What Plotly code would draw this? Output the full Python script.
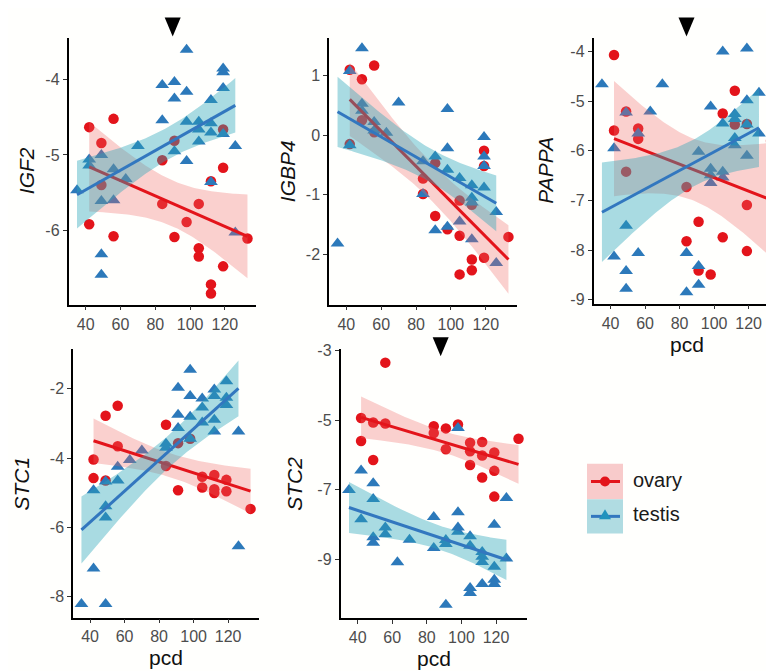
import numpy as np
import plotly.graph_objects as go

W, H = 774, 671

# ---------------- data (pcd = post-conceptional days, values = log expression) -------------
igf2_ovary_pcd = [42, 42, 49, 49, 56, 56, 84, 84, 91, 91, 98, 105, 105, 105, 112, 112, 112, 119, 119, 119, 133]
igf2_ovary_val = [-4.63, -5.92, -4.84, -5.40, -4.52, -6.08, -5.07, -5.65, -4.81, -6.09, -5.89, -5.65, -6.24, -6.35,
                  -5.35, -6.72, -6.84, -4.66, -5.17, -6.48, -6.11]
igf2_testis_pcd = [35, 42, 42, 49, 49, 49, 49, 56, 56, 63, 70, 84, 84, 91, 91, 91, 98, 98, 98, 98, 105, 105, 105,
                   112, 112, 112, 112, 119, 119, 119, 119, 126, 126]
igf2_testis_val = [-5.47, -5.06, -5.14, -5.00, -5.61, -6.32, -6.59, -5.19, -5.60, -5.32, -4.88, -4.07, -4.54, -4.03,
                   -4.25, -4.95, -3.60, -4.16, -4.56, -5.08, -4.56, -4.66, -4.82, -4.27, -4.58, -4.70, -5.36, -3.85,
                   -3.90, -4.11, -4.72, -4.88, -6.03]

igbp4_ovary_pcd = [42, 42, 49, 49, 56, 56, 84, 84, 91, 91, 98, 105, 105, 105, 112, 112, 112, 119, 119, 119, 133]
igbp4_ovary_val = [1.10, -0.15, 0.94, 0.25, 1.17, 0.05, -0.73, -0.99, -0.47, -1.36, -1.58, -1.10, -1.69, -2.34,
                   -1.17, -2.09, -2.27, -0.26, -0.52, -2.06, -1.71]
igbp4_testis_pcd = [35, 42, 42, 49, 49, 49, 56, 56, 63, 70, 84, 84, 91, 91, 98, 98, 98, 98, 105, 105,
                    112, 112, 112, 112, 119, 119, 119, 119, 126, 126]
igbp4_testis_val = [-1.82, 1.08, -0.17, 1.46, 0.53, 0.41, 0.22, 0.08, 0.04, 0.55, -0.44, -0.99, -0.36, -1.60,
                    0.44, -0.22, -0.58, -1.54, -0.72, -1.45, -0.84, -1.05, -1.13, -1.75, -0.03, -0.36, -0.52,
                    -0.88, -1.29, -2.15]

pappa_ovary_pcd = [42, 42, 49, 49, 56, 56, 84, 84, 91, 91, 98, 105, 105, 112, 112, 119, 119, 119, 133]
pappa_ovary_val = [-4.07, -5.59, -5.21, -6.42, -5.55, -5.76, -6.73, -7.82, -7.43, -8.41, -8.49, -5.25, -7.74,
                   -4.79, -5.47, -5.46, -7.09, -8.02, -5.80]
pappa_testis_pcd = [35, 42, 42, 49, 49, 49, 49, 56, 56, 63, 70, 84, 84, 91, 91, 91, 98, 98, 98, 98, 105, 105, 105,
                    105, 112, 112, 112, 112, 119, 119, 119, 119, 126, 126]
pappa_testis_val = [-4.66, -5.95, -8.13, -5.23, -7.51, -8.42, -8.78, -5.65, -8.06, -5.21, -4.66, -8.06, -8.85,
                    -6.02, -8.32, -8.70, -5.11, -6.36, -6.49, -6.65, -4.00, -5.45, -6.42, -6.54, -5.26, -5.36,
                    -5.74, -5.89, -3.94, -4.98, -5.47, -6.10, -4.83, -5.65]

stc1_ovary_pcd = [42, 42, 49, 49, 56, 56, 84, 84, 91, 91, 98, 105, 105, 112, 112, 112, 119, 119, 133]
stc1_ovary_val = [-4.04, -4.58, -2.78, -4.65, -2.49, -3.66, -3.04, -4.23, -3.57, -4.93, -3.44, -4.54, -4.85,
                  -4.49, -4.90, -5.01, -4.63, -4.96, -5.47]
stc1_testis_pcd = [35, 42, 42, 49, 49, 49, 49, 56, 56, 63, 70, 84, 84, 91, 91, 91, 98, 98, 98, 98, 105, 105, 105,
                   112, 112, 112, 112, 119, 119, 119, 126, 126]
stc1_testis_val = [-8.22, -4.93, -7.19, -4.68, -5.39, -5.72, -8.22, -4.25, -4.65, -4.06, -3.78, -3.59, -3.70,
                   -1.97, -2.75, -3.13, -1.45, -2.21, -2.81, -3.44, -2.28, -2.54, -2.97, -2.02, -2.21, -2.89,
                   -3.23, -1.78, -2.26, -2.47, -3.23, -6.55]

stc2_ovary_pcd = [42, 42, 49, 49, 56, 56, 84, 84, 91, 91, 98, 105, 105, 105, 112, 112, 112, 119, 119, 119, 133]
stc2_ovary_val = [-4.94, -5.60, -5.07, -6.15, -3.35, -5.10, -5.18, -5.37, -5.24, -5.84, -5.13, -5.65, -5.90,
                  -6.29, -5.63, -6.02, -6.65, -5.93, -6.46, -7.20, -5.54]
stc2_testis_pcd = [35, 42, 42, 49, 49, 49, 49, 56, 56, 63, 70, 84, 84, 91, 91, 91, 98, 98, 98, 98, 105, 105, 105,
                   105, 112, 112, 112, 112, 119, 119, 119, 119, 126, 126]
stc2_testis_val = [-7.01, -6.45, -7.85, -6.82, -7.27, -8.37, -8.53, -8.09, -8.28, -9.09, -8.44, -7.79, -8.68,
                   -8.45, -8.56, -10.31, -5.23, -7.65, -8.09, -8.21, -8.34, -8.61, -9.83, -9.97, -8.79, -8.93,
                   -9.08, -9.71, -8.01, -9.22, -9.59, -9.71, -8.98, -7.24]

genes = ["IGF2", "IGBP4", "PAPPA", "STC1", "STC2"]
ovary_pcd = [igf2_ovary_pcd, igbp4_ovary_pcd, pappa_ovary_pcd, stc1_ovary_pcd, stc2_ovary_pcd]
ovary_val = [igf2_ovary_val, igbp4_ovary_val, pappa_ovary_val, stc1_ovary_val, stc2_ovary_val]
testis_pcd = [igf2_testis_pcd, igbp4_testis_pcd, pappa_testis_pcd, stc1_testis_pcd, stc2_testis_pcd]
testis_val = [igf2_testis_val, igbp4_testis_val, pappa_testis_val, stc1_testis_val, stc2_testis_val]

x_ticks = [40, 60, 80, 100, 120]
y_ticks = [[-6, -5, -4], [-2, -1, 0, 1], [-9, -8, -7, -6, -5, -4], [-8, -6, -4, -2], [-9, -7, -5, -3]]
y_ranges = [[-6.99, -3.44], [-2.85, 1.64], [-9.08, -3.72], [-8.61, -0.86], [-10.69, -2.97]]
x_range = [30.1, 137.9]
arrow_pcd = {0: 90, 2: 84, 4: 88}   # panel index -> marked pcd
show_xtitle = [False, False, True, True, True]

# ---------------- styling / layout (pixel boxes of panels) ----------------
panel_px = [  # x0, x1, ytop, ybottom
    (60.5, 248, 23, 295),
    (321, 509, 23, 295),
    (585.5, 771.5, 23, 294),
    (65, 251, 340.5, 613.5),
    (332.5, 519, 340.5, 614),
]
ytitle_x = [18, 279, 538, 13, 287]

RED = "#E3141B"
BLUE = "#2C79BA"
RED_LINE = "#E3141B"
BLUE_LINE = "#3277BF"
PINK_FILL = "rgba(240,100,100,0.30)"
TEAL_FILL = "rgba(40,165,185,0.40)"
PINK_SOLID = "#F8CBCB"
TEAL_SOLID = "#B0DCE2"
FONT = "Liberation Sans"


def fx(px):
    return px / W


def fy(py):
    return 1 - py / H


def t_quant(df):
    z = 1.959964
    g1 = (z ** 3 + z) / 4
    g2 = (5 * z ** 5 + 16 * z ** 3 + 3 * z) / 96
    g3 = (3 * z ** 7 + 19 * z ** 5 + 17 * z ** 3 - 15 * z) / 384
    return z + g1 / df + g2 / df ** 2 + g3 / df ** 3


def lm_fit(x, y):
    x = np.asarray(x, float)
    y = np.asarray(y, float)
    n = len(x)
    b, a = np.polyfit(x, y, 1)
    resid = y - (a + b * x)
    s = np.sqrt(np.sum(resid ** 2) / (n - 2))
    xb = x.mean()
    sxx = np.sum((x - xb) ** 2)
    xs = np.linspace(x.min(), x.max(), 80)
    yh = a + b * xs
    se = s * np.sqrt(1 / n + (xs - xb) ** 2 / sxx)
    t = t_quant(n - 2)
    return xs, yh, yh - t * se, yh + t * se


fig = go.Figure()
layout = dict(
    width=W, height=H, margin=dict(l=0, r=0, t=0, b=0),
    paper_bgcolor="#FFFFFD", plot_bgcolor="rgba(0,0,0,0)",
    showlegend=False, font=dict(family=FONT),
)
annotations = []
shapes = []

for i, g in enumerate(genes):
    sfx = "" if i == 0 else str(i + 1)
    xa, ya = "x" + sfx, "y" + sfx
    x0, x1, yt, yb = panel_px[i]
    layout["xaxis" + sfx] = dict(
        domain=[fx(x0), fx(x1)], range=x_range, anchor=ya, tickvals=x_ticks,
        ticktext=[str(v) for v in x_ticks],
        showline=True, linecolor="black", linewidth=1.5, ticks="outside", ticklen=4,
        tickwidth=1.3, tickcolor="#333333", showgrid=False, zeroline=False,
        tickfont=dict(size=16, color="#4D4D4D", family=FONT),
    )
    layout["yaxis" + sfx] = dict(
        domain=[fy(yb), fy(yt)], range=y_ranges[i], anchor=xa, tickvals=y_ticks[i],
        ticktext=[str(v) for v in y_ticks[i]],
        showline=True, linecolor="black", linewidth=1.5, ticks="outside", ticklen=4,
        tickwidth=1.3, tickcolor="#333333", showgrid=False, zeroline=False,
        tickfont=dict(size=16, color="#4D4D4D", family=FONT),
    )
    # points (drawn first, ribbons drawn on top as in ggplot)
    fig.add_trace(go.Scatter(x=ovary_pcd[i], y=ovary_val[i], mode="markers", xaxis=xa, yaxis=ya,
                             marker=dict(symbol="circle", size=10.5, color=RED, line=dict(width=0)),
                             cliponaxis=False, hoverinfo="skip"))
    fig.add_trace(go.Scatter(x=testis_pcd[i], y=testis_val[i], mode="markers", xaxis=xa, yaxis=ya,
                             marker=dict(symbol="triangle-up", size=12, color=BLUE, line=dict(width=0)),
                             cliponaxis=False, hoverinfo="skip"))
    for px_, pv_, fill, lc in [(ovary_pcd[i], ovary_val[i], PINK_FILL, RED_LINE),
                               (testis_pcd[i], testis_val[i], TEAL_FILL, BLUE_LINE)]:
        xs, yh, lo, hi = lm_fit(px_, pv_)
        fig.add_trace(go.Scatter(x=np.concatenate([xs, xs[::-1]]), y=np.concatenate([hi, lo[::-1]]),
                                 mode="lines", fill="toself", fillcolor=fill, line=dict(width=0),
                                 xaxis=xa, yaxis=ya, hoverinfo="skip"))
        fig.add_trace(go.Scatter(x=xs, y=yh, mode="lines", line=dict(color=lc, width=3),
                                 xaxis=xa, yaxis=ya, hoverinfo="skip"))
    # y title
    annotations.append(dict(text="<i>%s</i>" % g, x=fx(ytitle_x[i]), y=fy((yt + yb) / 2), xref="paper",
                            yref="paper", showarrow=False, textangle=-90, xanchor="center", yanchor="middle",
                            font=dict(size=21, color="#111111", family=FONT)))
    if show_xtitle[i]:
        annotations.append(dict(text="pcd", x=fx((x0 + x1) / 2), y=fy(yb + 41), xref="paper", yref="paper",
                                showarrow=False, xanchor="center", yanchor="middle",
                                font=dict(size=21, color="#111111", family=FONT)))
    if i in arrow_pcd:
        shapes.append(dict(type="path", xref=xa, yref="paper", xsizemode="pixel", ysizemode="pixel",
                           xanchor=arrow_pcd[i], yanchor=fy(yt - 1 if i != 4 else yt + 7),
                           path="M-8,19 L8,19 L0,0 Z", fillcolor="black", line=dict(width=0)))

# legend (manual, ggplot-style keys)
leg_x0, leg_x1 = 579, 615
leg_rows = [("ovary", 457, 493, PINK_SOLID, RED_LINE, RED, "circle"),
            ("testis", 493, 528, TEAL_SOLID, BLUE_LINE, "#1F93BD", "triangle")]
for name, r0, r1, fc, lc, mc, sym in leg_rows:
    shapes.append(dict(type="rect", xref="paper", yref="paper", x0=fx(leg_x0), x1=fx(leg_x1),
                       y0=fy(r1), y1=fy(r0), fillcolor=fc, line=dict(width=0), layer="above"))
    yc = (r0 + r1) / 2
    shapes.append(dict(type="line", xref="paper", yref="paper", x0=fx(leg_x0 + 4), x1=fx(leg_x1 - 3),
                       y0=fy(yc), y1=fy(yc), line=dict(color=lc, width=3), layer="above"))
    xc = (leg_x0 + leg_x1) / 2
    if sym == "circle":
        shapes.append(dict(type="circle", xref="paper", yref="paper", xsizemode="pixel", ysizemode="pixel",
                           xanchor=fx(xc), yanchor=fy(yc), x0=-5, x1=5, y0=-5, y1=5, fillcolor=mc,
                           line=dict(width=0), layer="above"))
    else:
        shapes.append(dict(type="path", xref="paper", yref="paper", xsizemode="pixel", ysizemode="pixel",
                           xanchor=fx(xc), yanchor=fy(yc), path="M-6,-3 L6,-3 L0,7 Z", fillcolor=mc,
                           line=dict(width=0), layer="above"))
    annotations.append(dict(text=name, x=fx(623), y=fy(yc - 2), xref="paper", yref="paper", showarrow=False,
                            xanchor="left", yanchor="middle", font=dict(size=20, color="#1a1a1a", family=FONT)))

layout["annotations"] = annotations
layout["shapes"] = shapes
fig.update_layout(**layout)
fig.write_html("out.html")
